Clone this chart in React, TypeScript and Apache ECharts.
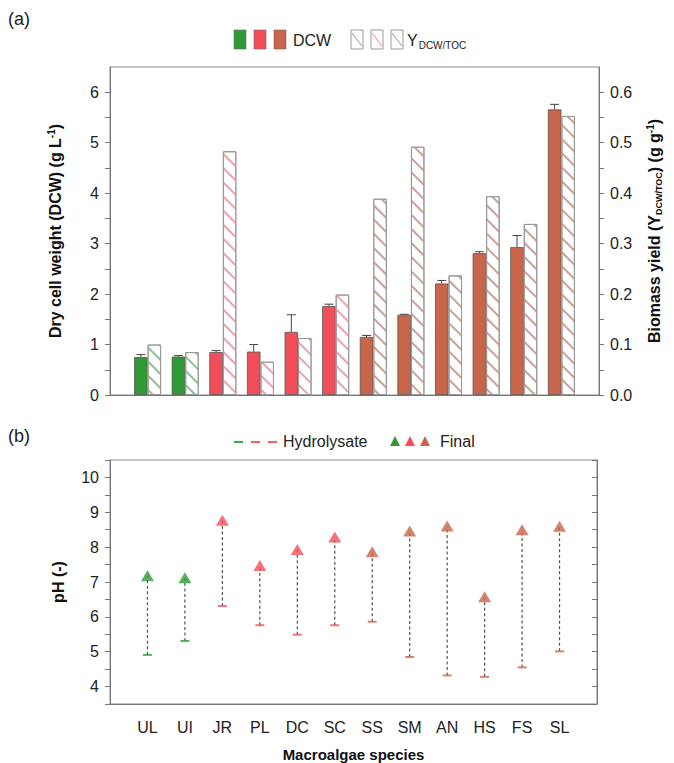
import React, { useEffect, useRef } from 'react';
import * as echarts from 'echarts';

const categories = ['UL', 'UI', 'JR', 'PL', 'DC', 'SC', 'SS', 'SM', 'AN', 'HS', 'FS', 'SL'];
const groupOf = ['green', 'green', 'red', 'red', 'red', 'red', 'brown', 'brown', 'brown', 'brown', 'brown', 'brown'];
const dcw = [0.75, 0.76, 0.85, 0.86, 1.25, 1.76, 1.15, 1.59, 2.21, 2.81, 2.93, 5.66];
const dcwErr = [0.05, 0.02, 0.03, 0.14, 0.34, 0.04, 0.03, 0.01, 0.06, 0.03, 0.23, 0.1];
const yieldVals = [0.1, 0.085, 0.483, 0.066, 0.113, 0.199, 0.389, 0.492, 0.237, 0.394, 0.339, 0.553];
const phHydrolysate = [4.91, 5.31, 6.31, 5.76, 5.49, 5.76, 5.86, 4.85, 4.32, 4.28, 4.55, 5.01];
const phFinal = [7.18, 7.12, 8.77, 7.47, 7.93, 8.29, 7.87, 8.46, 8.61, 6.58, 8.5, 8.6];

const FONT = 'Liberation Sans, Arial, sans-serif';
const solid: Record<string, string> = { green: '#2f9a33', red: '#f24e5a', brown: '#c9654a' };
const hatch: Record<string, string> = { green: '#8fbf93', red: '#eca2a8', brown: '#c9a196' };
const BAR_W = 13.5;

export default function App() {
  const ref = useRef<HTMLDivElement>(null);
  useEffect(() => {
    if (!ref.current) return;
    const chart = echarts.init(ref.current, undefined, { renderer: 'svg' });
    const axisCats = ['', ...categories, ''];
    const pad = (arr: any[]) => ['-', ...arr, '-'];

    const dcwData = pad(dcw.map((v, i) => ({ value: v, itemStyle: { color: solid[groupOf[i]] } })));
    const yieldData = pad(
      yieldVals.map((v, i) => ({
        value: v,
        itemStyle: {
          color: '#ffffff',
          decal: {
            symbol: 'rect',
            symbolSize: 1,
            dashArrayX: [1, 0],
            dashArrayY: [1.2, 8],
            rotation: Math.PI / 4,
            color: hatch[groupOf[i]],
          },
        },
      }))
    );

    const intFmt = (v: number) => (Math.abs(v - Math.round(v)) < 1e-6 ? String(Math.round(v)) : '');
    const tenthFmt = (v: number) =>
      Math.abs(v * 10 - Math.round(v * 10)) < 1e-6 ? v.toFixed(1) : '';

    const labelStyle = { fontSize: 16, color: '#222', fontFamily: FONT };
    const axisLine = { show: true, lineStyle: { color: '#777', width: 1 } };

    // legend graphics
    const legendA: any[] = [];
    const solidX = [234, 254, 274];
    ['green', 'red', 'brown'].forEach((g, k) => {
      legendA.push({
        type: 'rect',
        shape: { x: solidX[k], y: 30, width: 12, height: 19 },
        style: { fill: solid[g], stroke: '#666', lineWidth: 0.6 },
      });
    });
    legendA.push({
      type: 'text',
      x: 293,
      y: 40,
      style: { text: 'DCW', font: `16px ${FONT}`, fill: '#222', textVerticalAlign: 'middle' },
    });
    const hatchX = [351, 371, 391];
    ['green', 'red', 'brown'].forEach((g, k) => {
      legendA.push({
        type: 'rect',
        shape: { x: hatchX[k], y: 30, width: 12, height: 19 },
        style: { fill: '#fff', stroke: '#999', lineWidth: 1 },
      });
      legendA.push({
        type: 'line',
        shape: { x1: hatchX[k] + 1, y1: 33, x2: hatchX[k] + 11, y2: 46 },
        style: { stroke: hatch[g], lineWidth: 1.2 },
      });
    });
    legendA.push({
      type: 'text',
      x: 407,
      y: 40,
      style: {
        text: '{t|Y}{s|DCW/TOC}',
        textVerticalAlign: 'middle',
        rich: {
          t: { fontSize: 16, fontFamily: FONT, fill: '#222' },
          s: { fontSize: 10, fontFamily: FONT, fill: '#222', padding: [10, 0, 0, 1] },
        },
      },
    });

    const legendB: any[] = [];
    const dashX = [234, 251, 268];
    ['green', 'red', 'red'].forEach((g, k) => {
      legendB.push({
        type: 'line',
        shape: { x1: dashX[k], y1: 442, x2: dashX[k] + 9, y2: 442 },
        style: { stroke: solid[g], lineWidth: 1.8 },
      });
    });
    legendB.push({
      type: 'text',
      x: 283,
      y: 441,
      style: { text: 'Hydrolysate', font: `16px ${FONT}`, fill: '#222', textVerticalAlign: 'middle' },
    });
    const triX = [395, 410, 425];
    ['green', 'red', 'brown'].forEach((g, k) => {
      legendB.push({
        type: 'polygon',
        shape: { points: [[triX[k], 436], [triX[k] - 5, 446], [triX[k] + 5, 446]] },
        style: { fill: solid[g] },
      });
    });
    legendB.push({
      type: 'text',
      x: 440,
      y: 441,
      style: { text: 'Final', font: `16px ${FONT}`, fill: '#222', textVerticalAlign: 'middle' },
    });

    const option: any = {
      animation: false,
      backgroundColor: '#ffffff',
      textStyle: { fontFamily: FONT },
      graphic: [
        { type: 'text', left: 8, top: 10, style: { text: '(a)', font: `18px ${FONT}`, fill: '#222' } },
        { type: 'text', left: 8, top: 427, style: { text: '(b)', font: `18px ${FONT}`, fill: '#222' } },
        ...legendA,
        ...legendB,
      ],
      grid: [
        { left: 110, right: 75, top: 67, height: 328, show: true, borderColor: '#888', borderWidth: 1 },
        { left: 110, right: 77, top: 460, height: 245, show: true, borderColor: '#888', borderWidth: 1 },
      ],
      xAxis: [
        {
          gridIndex: 0,
          type: 'category',
          data: axisCats,
          boundaryGap: false,
          axisTick: { show: false },
          axisLabel: { show: false },
          axisLine,
        },
        {
          gridIndex: 1,
          type: 'category',
          data: axisCats,
          boundaryGap: false,
          axisTick: { show: false },
          axisLabel: { ...labelStyle, interval: 0, margin: 15 },
          axisLine,
          name: 'Macroalgae species',
          nameLocation: 'middle',
          nameGap: 43,
          nameTextStyle: { fontSize: 15, fontWeight: 'bold', color: '#111', fontFamily: FONT },
        },
      ],
      yAxis: [
        {
          gridIndex: 0,
          type: 'value',
          min: 0,
          max: 6.5,
          interval: 0.5,
          axisLine,
          axisTick: { show: true, length: 5, lineStyle: { color: '#777' } },
          axisLabel: { ...labelStyle, margin: 11, formatter: intFmt, showMaxLabel: false },
          splitLine: { show: false },
          name: '{t|Dry cell weight (DCW) (g L}{sup|-1}{t|)}',
          nameLocation: 'middle',
          nameRotate: 90,
          nameGap: 45,
          nameTextStyle: {
            rich: {
              t: { fontSize: 16, fontWeight: 'bold', color: '#111', fontFamily: FONT },
              sup: { fontSize: 10, fontWeight: 'bold', color: '#111', fontFamily: FONT, padding: [0, 0, 9, 0] },
            },
          },
        },
        {
          gridIndex: 0,
          type: 'value',
          position: 'right',
          min: 0,
          max: 0.65,
          interval: 0.05,
          axisLine,
          axisTick: { show: true, length: 5, lineStyle: { color: '#777' } },
          axisLabel: { ...labelStyle, margin: 11, formatter: tenthFmt, showMaxLabel: false },
          splitLine: { show: false },
          name: '{t|Biomass yield (Y}{sub|DCW/TOC}{t|) (g g}{sup|-1}{t|)}',
          nameLocation: 'middle',
          nameRotate: 90,
          nameGap: 46,
          nameTextStyle: {
            rich: {
              t: { fontSize: 16, fontWeight: 'bold', color: '#111', fontFamily: FONT },
              sub: { fontSize: 9, fontWeight: 'bold', color: '#111', fontFamily: FONT, padding: [9, 0, 0, 0] },
              sup: { fontSize: 10, fontWeight: 'bold', color: '#111', fontFamily: FONT, padding: [0, 0, 9, 0] },
            },
          },
        },
        {
          gridIndex: 1,
          type: 'value',
          min: 3.5,
          max: 10.5,
          interval: 0.5,
          axisLine,
          axisTick: { show: true, length: 5, lineStyle: { color: '#777' } },
          axisLabel: { ...labelStyle, margin: 11, formatter: intFmt },
          splitLine: { show: false },
          name: 'pH (-)',
          nameLocation: 'middle',
          nameRotate: 90,
          nameGap: 44,
          nameTextStyle: { fontSize: 16, fontWeight: 'bold', color: '#111', fontFamily: FONT },
        },
        {
          gridIndex: 1,
          type: 'value',
          position: 'right',
          min: 3.5,
          max: 10.5,
          interval: 0.5,
          axisLine,
          axisTick: { show: true, inside: true, length: 5, lineStyle: { color: '#777' } },
          axisLabel: { show: false },
          splitLine: { show: false },
        },
      ],
      series: [
        {
          name: 'DCW',
          type: 'bar',
          xAxisIndex: 0,
          yAxisIndex: 0,
          data: dcwData,
          barWidth: BAR_W,
          barGap: '0%',
          itemStyle: { borderColor: '#555', borderWidth: 0.8 },
        },
        {
          name: 'YDCW/TOC',
          type: 'bar',
          xAxisIndex: 0,
          yAxisIndex: 1,
          data: yieldData,
          barWidth: BAR_W,
          barGap: '0%',
          itemStyle: { borderColor: '#999', borderWidth: 1 },
        },
        {
          name: 'DCW error',
          type: 'custom',
          xAxisIndex: 0,
          yAxisIndex: 0,
          z: 5,
          data: dcw.map((v, i) => [i + 1, v, v + dcwErr[i]]),
          encode: { x: 0, y: [1, 2] },
          renderItem: (params: any, api: any) => {
            const idx = api.value(0);
            const p0 = api.coord([idx, api.value(1)]);
            const p1 = api.coord([idx, api.value(2)]);
            const x = p0[0] - BAR_W / 2;
            return {
              type: 'group',
              children: [
                { type: 'line', shape: { x1: x, y1: p0[1], x2: x, y2: p1[1] }, style: { stroke: '#444', lineWidth: 1 } },
                { type: 'line', shape: { x1: x - 4.5, y1: p1[1], x2: x + 4.5, y2: p1[1] }, style: { stroke: '#444', lineWidth: 1 } },
              ],
            };
          },
        },
        {
          name: 'pH change',
          type: 'custom',
          xAxisIndex: 1,
          yAxisIndex: 2,
          data: phFinal.map((v, i) => [i + 1, phHydrolysate[i], v]),
          encode: { x: 0, y: [1, 2] },
          renderItem: (params: any, api: any) => {
            const idx = api.value(0);
            const p0 = api.coord([idx, api.value(1)]);
            const p1 = api.coord([idx, api.value(2)]);
            return {
              type: 'line',
              shape: { x1: p0[0], y1: p0[1], x2: p1[0], y2: p1[1] },
              style: { stroke: '#4d5266', lineWidth: 1.2, lineDash: [3, 2.5] },
            };
          },
        },
        {
          name: 'Hydrolysate',
          type: 'scatter',
          xAxisIndex: 1,
          yAxisIndex: 2,
          symbol: 'rect',
          symbolSize: [9, 2],
          z: 4,
          data: phHydrolysate.map((v, i) => ({ value: [i + 1, v], itemStyle: { color: solid[groupOf[i]] } })),
        },
        {
          name: 'Final',
          type: 'scatter',
          xAxisIndex: 1,
          yAxisIndex: 2,
          symbol: 'triangle',
          symbolSize: [13, 11],
          z: 4,
          data: phFinal.map((v, i) => ({ value: [i + 1, v], itemStyle: { color: solid[groupOf[i]] } })),
        },
      ],
    };
    chart.setOption(option);
    return () => chart.dispose();
  }, []);
  return <div ref={ref} style={{ width: 674, height: 763, position: 'absolute', left: 0, top: 0 }} />;
}
